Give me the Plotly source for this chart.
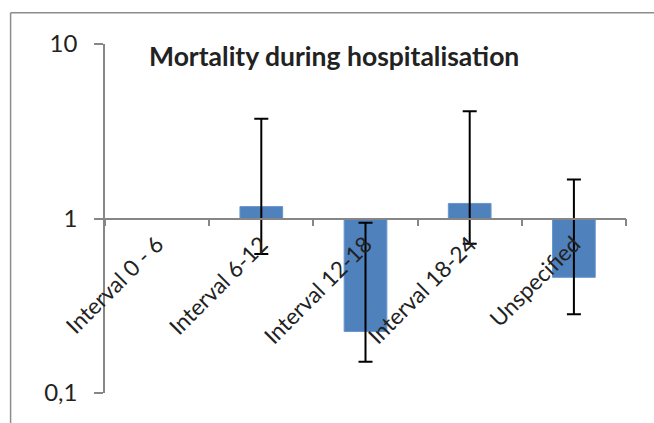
import plotly.graph_objects as go

categories = ["Interval 0 - 6", "Interval 6-12", "Interval 12-18", "Interval 18-24", "Unspecified"]
odds_ratio = [None, 1.17, 0.225, 1.22, 0.46]
ci_upper = [None, 3.73, 0.945, 4.12, 1.675]
ci_lower = [None, 0.625, 0.151, 0.716, 0.283]
y_tickvals = [0.1, 1, 10]
y_ticktext = ["0,1", "1", "10"]
title_text = "Mortality during hospitalisation"

BASE = 1.0
lengths = [None if v is None else v - BASE for v in odds_ratio]
err_plus = [None if v is None else u - v for v, u in zip(odds_ratio, ci_upper)]
err_minus = [None if v is None else v - l for v, l in zip(odds_ratio, ci_lower)]

W, H = 654, 423
L, R, T, B = 104.5, 626, 44.3, 392.7

fig = go.Figure()
fig.add_trace(go.Bar(
    x=categories, y=lengths, base=BASE,
    width=0.41,
    marker=dict(color="#4F81BD", line=dict(color="#6A96CC", width=1)),
    error_y=dict(type="data", symmetric=False, array=err_plus, arrayminus=err_minus,
                 color="black", thickness=2, width=7),
    showlegend=False,
))

def px_to_paper_x(px):
    return (px - L) / (R - L)

def px_to_paper_y(py):
    return (B - py) / (B - T)

shapes = [
    dict(type="line", xref="paper", yref="paper",
         x0=px_to_paper_x(10), x1=px_to_paper_x(10), y0=px_to_paper_y(13), y1=px_to_paper_y(430),
         line=dict(color="#8C8C8C", width=1.5)),
    dict(type="line", xref="paper", yref="paper",
         x0=px_to_paper_x(10), x1=px_to_paper_x(660), y0=px_to_paper_y(13), y1=px_to_paper_y(13),
         line=dict(color="#8C8C8C", width=1.5)),
]

fig.update_layout(
    width=W, height=H,
    margin=dict(l=L, r=W - R, t=T, b=H - B, pad=0),
    paper_bgcolor="white", plot_bgcolor="white",
    font=dict(family="Lato, Noto Sans, sans-serif", color="#222222"),
    shapes=shapes,
    annotations=[
        dict(text="<b>" + title_text + "</b>", xref="paper", yref="paper",
             x=px_to_paper_x(147), y=px_to_paper_y(56), xanchor="left", yanchor="middle",
             showarrow=False, font=dict(size=26.5, color="#222222")),
    ],
    xaxis=dict(
        type="category", range=[-0.5, 4.5],
        anchor="free", position=0.5,
        showline=True, linecolor="#868686", linewidth=1.5,
        ticks="outside", tickson="boundaries", ticklen=7, tickcolor="#868686", tickwidth=1.5,
        tickangle=-45, tickfont=dict(size=22.5, color="#222222"),
        ticklabelstandoff=3,
        showgrid=False, zeroline=False,
    ),
    yaxis=dict(
        type="log", range=[-1, 1],
        showline=True, linecolor="#868686", linewidth=1.5,
        ticks="outside", ticklen=9, tickcolor="#868686", tickwidth=1.5,
        tickvals=y_tickvals, ticktext=y_ticktext,
        tickfont=dict(size=24, color="#222222"),
        ticklabelstandoff=12,
        showgrid=False, zeroline=False,
    ),
)

fig.write_html("out.html")
